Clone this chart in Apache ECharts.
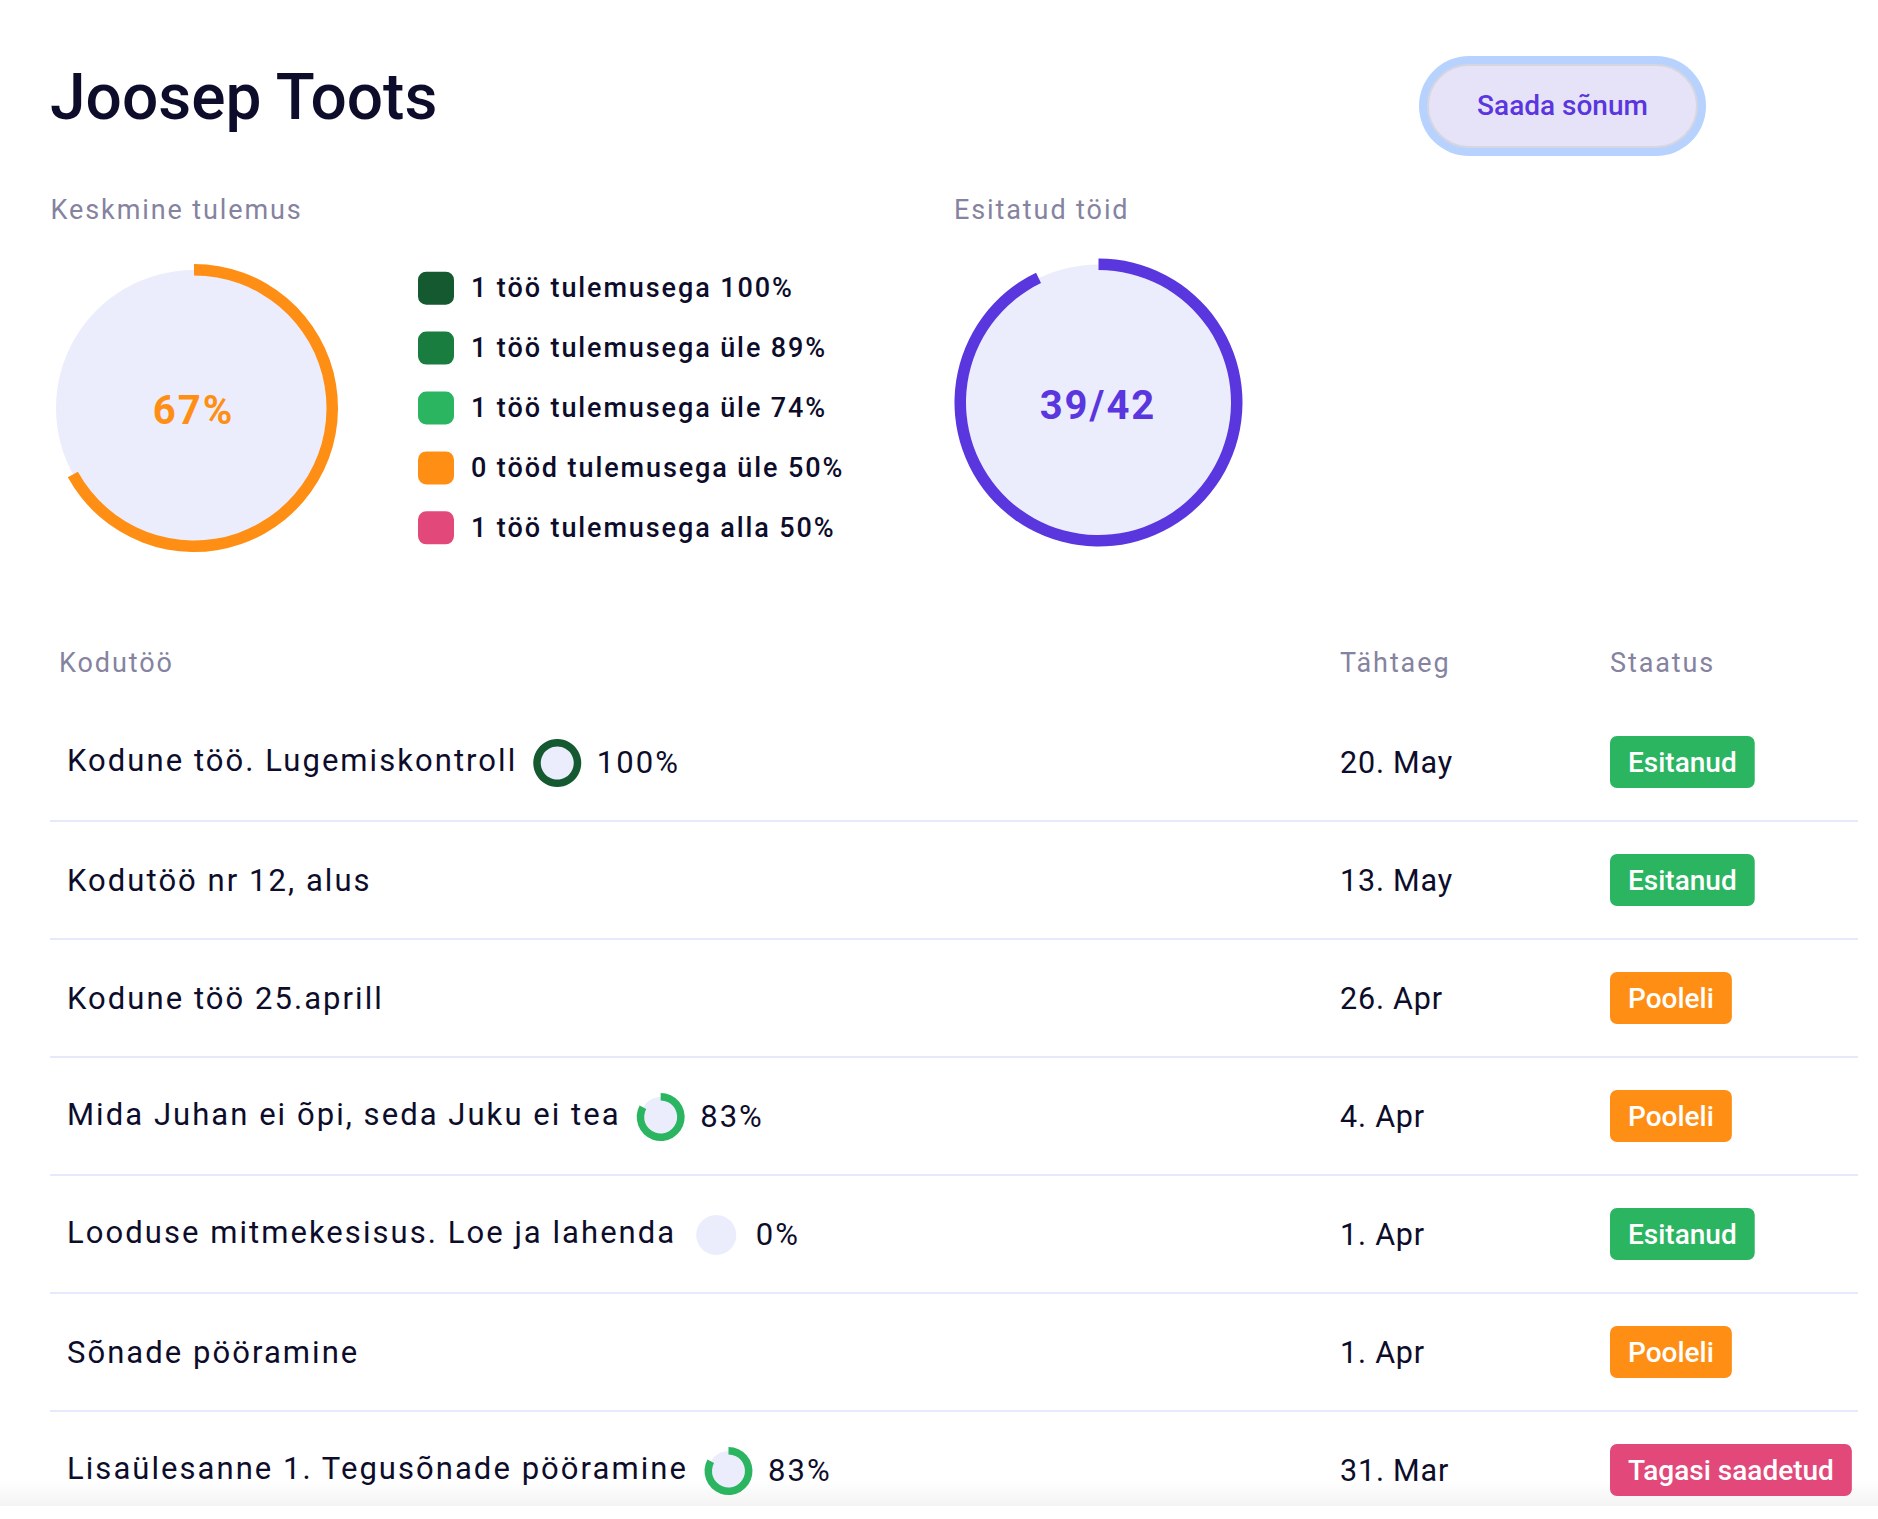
<!DOCTYPE html>
<html>
<head>
<meta charset="utf-8">
<title>Joosep Toots</title>
<script src="https://cdn.jsdelivr.net/npm/echarts@6/dist/echarts.min.js"></script>
<style>
html, body { margin: 0; padding: 0; background: #fff; }
#main { width: 1878px; height: 1519px; }
/* zrender has no letter spacing, so it is set on the svg text by font size */
text[style*="27px"] { letter-spacing: 1.9px; }
text[style*="31px"] { letter-spacing: 2.05px; }
text[style*="30.5px"] { letter-spacing: 0.8px; }
text[style*="40px"] { letter-spacing: 2px; }
</style>
</head>
<body>
<div id="main"></div>
<script>
var studentName = "Joosep Toots";
var buttonLabel = "Saada sõnum";
var averageLabel = "Keskmine tulemus";
var submittedLabel = "Esitatud töid";
var averageScore = 67;
var submittedCount = 39;
var totalCount = 42;

var legendLabels = ["1 töö tulemusega 100%", "1 töö tulemusega üle 89%", "1 töö tulemusega üle 74%", "0 tööd tulemusega üle 50%", "1 töö tulemusega alla 50%"];
var legendCounts = [1, 1, 1, 0, 1];

var columnLabels = ["Kodutöö", "Tähtaeg", "Staatus"];
var workNames = ["Kodune töö. Lugemiskontroll", "Kodutöö nr 12, alus", "Kodune töö 25.aprill", "Mida Juhan ei õpi, seda Juku ei tea", "Looduse mitmekesisus. Loe ja lahenda", "Sõnade pööramine", "Lisaülesanne 1. Tegusõnade pööramine"];
var workScores = [100, null, null, 83, 0, null, 83];
var workDates = ["20. May", "13. May", "26. Apr", "4. Apr", "1. Apr", "1. Apr", "31. Mar"];
var workStatus = ["Esitanud", "Esitanud", "Pooleli", "Pooleli", "Esitanud", "Pooleli", "Tagasi saadetud"];

var legendColors = ["#14592f", "#1a7d40", "#2bb561", "#ff8f14", "#e2487a"];
var statusColors = { "Esitanud": "#2bb561", "Pooleli": "#ff8f14", "Tagasi saadetud": "#e2487a" };
var DARK = "#0d0d2b", GREY = "#85839f", PURPLE = "#5a36df", DISC = "#ebedfc", LINE = "#e6e9fb";
var FONT = "Roboto, sans-serif";

function scoreColor(score) {
    if (score >= 100) return legendColors[0];
    if (score > 89) return legendColors[1];
    if (score > 74) return legendColors[2];
    if (score > 50) return legendColors[3];
    return legendColors[4];
}

var measureCtx = document.createElement("canvas").getContext("2d");
function textWidth(text, font, spacing) {
    measureCtx.font = font;
    measureCtx.letterSpacing = spacing + "px";
    return measureCtx.measureText(text).width;
}

function donut(center, discR, inner, outer, value, rest, color) {
    return [{
        type: "pie", silent: true, center: center, radius: [0, discR], label: { show: false }, labelLine: { show: false },
        data: [{ value: 1, name: "disc", itemStyle: { color: DISC } }]
    }, {
        type: "pie", silent: true, center: center, radius: [inner, outer], startAngle: 90, label: { show: false }, labelLine: { show: false },
        data: [
            { value: value, name: "done", itemStyle: { color: color } },
            { value: rest, name: "rest", itemStyle: { color: "rgba(0,0,0,0)" } }
        ]
    }];
}

function txt(text, x, y, font, fill, align) {
    return { type: "text", z: 10, style: { text: text, x: x, y: y, font: font, fill: fill, align: align || "left", verticalAlign: "middle" } };
}

var series = [];
series = series.concat(donut([194, 408], 138, 132.5, 144, averageScore, 100 - averageScore, legendColors[3]));
series = series.concat(donut([1098.5, 402.5], 138, 132.5, 144, submittedCount, totalCount - submittedCount, PURPLE));

// only feeds the legend
series.push({
    type: "pie", silent: true, center: [600, 400], radius: [0, 0], label: { show: false }, labelLine: { show: false },
    data: legendLabels.map(function (name, i) {
        return { name: name, value: legendCounts[i], itemStyle: { color: legendColors[i] } };
    })
});

var graphic = [
    txt(studentName, 50, 97, "500 64px " + FONT, DARK),
    txt(averageLabel, 50.5, 210, "400 27px " + FONT, GREY),
    txt(submittedLabel, 954, 210, "400 27px " + FONT, GREY),
    txt(averageScore + "%", 193.5, 410, "700 40px " + FONT, legendColors[3], "center"),
    txt(submittedCount + "/" + totalCount, 1098, 405, "700 40px " + FONT, PURPLE, "center"),
    { type: "rect", z: 5, shape: { x: 1419, y: 56, width: 287, height: 100, r: 50 }, style: { fill: "#b7d2fe" } },
    { type: "rect", z: 6, shape: { x: 1428, y: 65, width: 269, height: 82, r: 41 }, style: { fill: "#e6e3f8", stroke: "#d6d6e0", lineWidth: 2 } },
    txt(buttonLabel, 1562.5, 105, "500 28px " + FONT, PURPLE, "center"),
    txt(columnLabels[0], 59, 663, "400 27px " + FONT, GREY),
    txt(columnLabels[1], 1340, 663, "400 27px " + FONT, GREY),
    txt(columnLabels[2], 1610, 663, "400 27px " + FONT, GREY)
];

var ROW_Y = 762, ROW_H = 118;
workNames.forEach(function (name, i) {
    var y = ROW_Y + i * ROW_H;
    var nameFont = "400 31px " + FONT;
    // names next to a score ring sit a little higher
    graphic.push(txt(name, 67, workScores[i] !== null ? y - 2 : y, nameFont, DARK));
    graphic.push(txt(workDates[i], 1340, y, "400 30.5px " + FONT, DARK));
    graphic.push({
        type: "text", z: 10,
        style: {
            text: workStatus[i], x: 1610, y: y, font: "500 28px " + FONT, fill: "#fff", verticalAlign: "middle",
            backgroundColor: statusColors[workStatus[i]], padding: [11, 18, 13, 18], borderRadius: 7
        }
    });
    if (i < workNames.length - 1) {
        graphic.push({ type: "rect", z: 4, shape: { x: 50, y: y + 58, width: 1808, height: 2 }, style: { fill: LINE } });
    }
    if (workScores[i] !== null) {
        var cx = 67 + textWidth(name, nameFont, 2.05) + 16 + 24;
        series = series.concat(donut([cx, y + 1], 20, 16.5, 24, workScores[i], 100 - workScores[i], scoreColor(workScores[i])));
        graphic.push(txt(workScores[i] + "%", cx + 24 + 15.5, y, nameFont, DARK));
    }
});

// fade at the bottom of the screenshot, under the marks
graphic.push({
    type: "rect", z: 1, shape: { x: 0, y: 1480, width: 1878, height: 26 },
    style: { fill: new echarts.graphic.LinearGradient(0, 0, 0, 1, [{ offset: 0, color: "rgba(244,244,244,0)" }, { offset: 1, color: "rgba(244,244,244,1)" }]) }
});

var myChart = echarts.init(document.getElementById("main"), null, { renderer: "svg" });
myChart.setOption({
    animation: false,
    backgroundColor: "#fff",
    tooltip: { show: false },
    legend: {
        orient: "vertical", left: 418, top: 271.7, padding: 0, data: legendLabels, selectedMode: false,
        icon: "roundRect", itemWidth: 36, itemHeight: 33, itemGap: 26.9,
        textStyle: { color: DARK, fontFamily: "Roboto", fontWeight: 500, fontSize: 27, padding: [0, 0, 0, 12] }
    },
    series: series,
    graphic: graphic
});
</script>
</body>
</html>
